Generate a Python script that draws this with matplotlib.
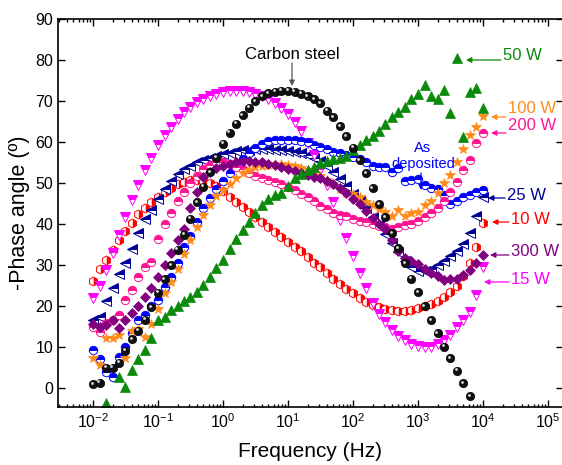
import numpy as np
import matplotlib
matplotlib.use("Agg")
import matplotlib.pyplot as plt
from matplotlib.transforms import offset_copy
from matplotlib.ticker import FixedLocator, NullLocator, NullFormatter, LogFormatterSciNotation

plt.rcParams['font.family'] = ['Liberation Sans', 'DejaVu Sans']
plt.rcParams['mathtext.fontset'] = 'custom'
plt.rcParams['mathtext.rm'] = 'Liberation Sans'
plt.rcParams['mathtext.it'] = 'Liberation Sans:italic'

nan = np.nan

# ---------------- data ----------------
freq = [0.01, 0.0126, 0.0158, 0.02, 0.0251, 0.0316, 0.0398, 0.0501, 0.0631, 0.0794,
        0.1, 0.126, 0.158, 0.2, 0.251, 0.316, 0.398, 0.501, 0.631, 0.794,
        1, 1.26, 1.58, 2, 2.51, 3.16, 3.98, 5.01, 6.31, 7.94,
        10, 12.6, 15.8, 20, 25.1, 31.6, 39.8, 50.1, 63.1, 79.4,
        100, 126, 158, 200, 251, 316, 398, 501, 631, 794,
        1000, 1260, 1580, 2000, 2510, 3160, 3980, 5010, 6310, 7940,
        10000]

carbon_steel = [1.0, 1.3, 5.0, 5.0, 6.2, 9.1, 11.9, 14.0, 16.7, 19.7,
                23.2, 26.6, 30.0, 33.7, 37.4, 41.3, 45.3, 49.1, 52.6, 56.2,
                59.6, 62.3, 64.5, 66.6, 68.4, 69.9, 71.1, 71.9, 72.3, 72.5,
                72.5, 72.3, 71.8, 71.1, 70.5, 69.4, 67.6, 66.0, 63.9, 61.4,
                58.6, 55.6, 52.4, 48.7, 44.9, 41.6, 37.7, 34.1, 30.5, 26.7,
                23.4, 20.0, 16.6, 13.4, 10.1, 7.2, 4.2, 1.1, -2.0, nan,
                nan]

w15 = [21.9, 24.9, 28.9, 33.0, 37.4, 41.8, 45.9, 49.6, 53.2, 56.2,
       59.2, 61.7, 63.7, 65.5, 67.2, 68.6, 69.8, 70.6, 71.3, 71.8,
       72.2, 72.4, 72.5, 72.4, 72.2, 71.7, 71.1, 70.4, 69.4, 68.3,
       66.9, 64.9, 62.6, 59.8, 56.8, 53.2, 49.5, 45.3, 40.9, 36.5,
       32.1, 28.0, 24.3, 20.8, 18.1, 16.0, 14.2, 12.8, 11.7, 10.7,
       10.2, 10.1, 10.1, 10.7, 11.7, 12.9, 15.0, 16.6, 18.6, 22.7,
       29.6]

w10 = [26.0, 29.0, 31.2, 33.7, 36.1, 38.2, 40.3, 42.4, 43.9, 45.3,
       46.7, 47.9, 48.9, 49.8, 50.3, 50.7, 50.8, 50.6, 50.0, 49.2,
       48.0, 46.6, 45.3, 44.1, 42.9, 41.7, 40.5, 39.3, 38.1, 36.9,
       35.7, 34.5, 33.3, 31.9, 30.6, 29.4, 28.1, 26.6, 25.4, 24.2,
       23.1, 21.9, 21.0, 20.2, 19.8, 19.3, 19.0, 18.9, 18.9, 19.1,
       19.4, 19.9, 20.4, 21.2, 22.2, 23.4, 24.8, 27.3, 30.4, 34.5,
       40.2]

w25 = [16.6, 17.2, 21.2, 24.3, 27.9, 30.5, 33.9, 37.9, 41.1, 43.5,
       46.2, 48.6, 50.6, 52.1, 53.3, 54.2, 55.0, 55.6, 56.1, 56.6,
       57.0, 57.4, 57.7, 58.0, 58.1, 58.2, 58.2, 58.2, 58.1, 58.0,
       57.8, 57.5, 57.2, 56.8, 56.1, 55.3, 54.1, 52.6, 50.9, 49.2,
       47.4, 45.6, 43.9, 41.8, 39.8, 37.6, 35.3, 33.1, 31.0, 29.6,
       28.6, 28.5, 29.1, 29.9, 31.0, 32.1, 33.3, 35.0, 37.8, 42.0,
       46.7]

as_deposited = [9.3, 7.0, 4.0, 2.8, 7.5, 10.1, 13.5, 16.6, 17.8, 20.0,
                21.5, 24.6, 27.1, 30.5, 34.5, 37.0, 40.4, 44.0, 46.3, 48.5,
                50.5, 52.5, 54.3, 55.8, 57.2, 58.5, 59.6, 60.2, 60.5, 60.6,
                60.6, 60.5, 60.3, 59.9, 59.3, 58.8, 58.2, 57.6, 57.2, 56.8,
                56.3, 55.8, 55.2, 54.2, 53.8, 53.8, 52.8, 53.6, 50.6, 50.8,
                50.9, 49.4, 48.8, 48.6, 47.1, 44.9, 45.5, 46.5, 47.1, 47.9,
                48.4]

w200 = [15.0, 13.7, 15.8, 16.5, 17.8, 21.5, 24.0, 27.0, 29.5, 30.8,
        36.3, 40.0, 42.8, 45.5, 47.8, 50.0, 51.8, 53.5, 54.5, 55.0,
        55.0, 54.6, 54.0, 53.3, 52.5, 51.8, 51.2, 50.8, 50.3, 49.7,
        49.1, 48.2, 47.4, 46.6, 45.7, 44.5, 43.6, 42.8, 42.2, 41.9,
        41.2, 40.7, 40.4, 40.0, 39.5, 39.2, 38.9, 39.2, 39.7, 40.1,
        40.8, 41.6, 42.7, 44.0, 45.5, 47.8, 50.3, 53.2, 55.6, 59.7,
        62.1]

w100 = [7.4, 5.6, 12.1, 12.1, 12.9, 7.2, 14.0, 14.3, 12.5, 15.5,
        19.3, 23.1, 25.8, 29.1, 32.6, 36.0, 39.2, 42.2, 44.6, 46.8,
        48.4, 49.8, 51.1, 52.4, 53.2, 53.8, 54.2, 54.5, 54.6, 54.6,
        54.4, 54.1, 53.7, 53.1, 52.4, 51.6, 50.7, 49.7, 48.5, 47.6,
        47.3, 46.6, 45.4, 44.6, 43.6, 43.0, 41.9, 43.4, 42.0, 42.6,
        42.9, 44.6, 45.5, 47.6, 49.9, 51.9, 55.0, 58.2, 61.7, 63.6,
        66.3]

w300 = [15.5, 15.0, 15.4, 16.6, 14.6, 16.7, 18.2, 19.9, 22.3, 24.4,
        27.0, 30.0, 33.0, 36.1, 38.9, 43.8, 47.8, 51.4, 52.6, 53.6,
        54.1, 54.7, 55.1, 55.3, 55.3, 55.2, 55.0, 54.7, 54.3, 53.9,
        53.4, 52.9, 52.4, 51.9, 51.5, 51.1, 50.6, 49.8, 48.7, 47.6,
        46.2, 44.8, 43.2, 41.5, 40.0, 38.7, 36.0, 33.5, 31.8, 30.9,
        30.2, 29.1, 28.1, 27.2, 26.4, 26.5, 26.5, 27.6, 28.8, 30.4,
        32.4]

w50 = [nan, nan, -3.7, nan, 2.8, 0.3, 4.4, 7.0, 9.3, 12.1,
       16.7, 17.2, 19.0, 20.0, 21.1, 22.3, 23.5, 25.1, 27.0, 29.2,
       31.3, 33.9, 36.4, 38.5, 40.6, 42.6, 44.6, 46.0, 47.1, 47.6,
       49.3, 51.1, 52.2, 53.2, 54.0, 54.8, 55.4, 55.9, 56.2, 56.5,
       58.0, 59.3, 60.5, 61.5, 62.8, 64.5, 66.1, 67.2, 68.6, 70.4,
       71.7, 73.9, 71.1, 70.5, 72.8, 67.0, 80.6, 61.1, 72.3, 73.1,
       68.2]

yticks = [0, 10, 20, 30, 40, 50, 60, 70, 80, 90]
xticks = [1e-2, 1e-1, 1e0, 1e1, 1e2, 1e3, 1e4, 1e5]

# ---------------- colours ----------------
C_MAG = '#ff00ff'
C_RED = '#ff0000'
C_NAVY = '#000099'
C_BLUE = '#0000ff'
C_PINK = '#ff1493'
C_ORANGE = '#ff8c1a'
C_PURPLE = '#800080'
C_GREEN = '#0a8a0a'

W, H = 562, 465
fig = plt.figure(figsize=(W / 100, H / 100), dpi=100)
ax = fig.add_axes([58 / W, 1 - 407 / H, 505 / W, 388 / H])
ax.set_xscale('log')
ax.set_xlim(10 ** (-2 - 35 / 65), 10 ** (5 + 15 / 65))
ax.set_ylim((388 - 407) / 4.1, 90)

def half(vals, marker, color, fs, ms=6.0):
    ax.plot(freq, vals, ls='none', marker=marker, ms=ms, mfc=color, mec=color,
            mew=0.7, fillstyle=fs, markerfacecoloralt='white')

half(w10, 'h', C_RED, 'right', 6.5)
half(w25, '<', C_NAVY, 'top', 6.5)
half(w15, 'v', C_MAG, 'top', 6.5)
half(as_deposited, 'o', C_BLUE, 'top', 6.0)
half(w200, 'o', C_PINK, 'top', 6.0)
ax.plot(freq, w100, ls='none', marker='*', ms=7.5, mfc=C_ORANGE, mec=C_ORANGE, mew=0.5)
ax.plot(freq, w300, ls='none', marker='D', ms=5.0, mfc=C_PURPLE, mec=C_PURPLE, mew=0.5)
ax.plot(freq, w50, ls='none', marker='^', ms=6.5, mfc=C_GREEN, mec=C_GREEN, mew=0.5)
ax.plot(freq, carbon_steel, ls='none', marker='o', ms=6.0, mfc='#111111', mec='#000000', mew=0.5)
hl = offset_copy(ax.transData, fig=fig, x=-1.0, y=1.0, units='points')
ax.plot(freq, carbon_steel, ls='none', marker='o', ms=2.0, mfc='#dddddd', mec='none',
        transform=hl)

# ---------------- axes styling ----------------
ax.set_yticks(yticks)
ax.yaxis.set_minor_locator(NullLocator())
ax.xaxis.set_major_locator(FixedLocator(xticks))
ax.xaxis.set_major_formatter(LogFormatterSciNotation())
minor = [m * d for d in [1e-3, 1e-2, 1e-1, 1e0, 1e1, 1e2, 1e3, 1e4, 1e5]
         for m in range(2, 10)]
ax.xaxis.set_minor_locator(FixedLocator(minor))
ax.xaxis.set_minor_formatter(NullFormatter())
ax.tick_params(which='both', direction='in', top=True, right=True, width=1.0)
ax.tick_params(which='major', length=5, labelsize=11.5)
ax.tick_params(which='minor', length=2.5)
ax.tick_params(axis='x', which='major', pad=4)
for s in ax.spines.values():
    s.set_linewidth(1.2)

ax.set_xlabel('Frequency (Hz)', fontsize=15, labelpad=8)
ax.set_ylabel('-Phase angle (º)', fontsize=15.5, labelpad=4)

# ---------------- annotations ----------------
def P(px, py):
    return 10 ** (-2 + (px - 93) / 65.0), (388 - py) / 4.1

def arrow(x0, y0, x1, y1, color):
    ax.annotate('', xy=P(x1, y1), xytext=P(x0, y0),
                arrowprops=dict(arrowstyle='-|>', color=color, lw=0.9,
                                mutation_scale=8, shrinkA=0, shrinkB=0))

ax.text(*P(292, 55), 'Carbon steel', fontsize=12, ha='center', va='center')
arrow(292, 63, 292, 86, '#555555')

ax.text(*P(423, 148), 'As', fontsize=10.5, ha='center', va='center', color=C_BLUE)
ax.text(*P(423, 164), 'deposited', fontsize=10.5, ha='center', va='center', color=C_BLUE)
arrow(421, 173, 421, 190, C_BLUE)

labels = [('50 W', C_GREEN, 56, 60, 501, 466),
          ('100 W', C_ORANGE, 109, 117, 506, 491),
          ('200 W', C_PINK, 126, 133, 506, 491),
          ('25 W', C_NAVY, 195, 198, 505, 488),
          ('10 W', C_RED, 220, 222, 509, 492),
          ('300 W', C_PURPLE, 252, 255, 509, 490),
          ('15 W', C_MAG, 280, 282, 509, 484)]
for txt, col, ty, ay, ax0, ax1 in labels:
    ax.text(*P(ax0 + 2, ty), txt, fontsize=12, ha='left', va='center', color=col)
    arrow(ax0, ay, ax1, ay, col)

fig.savefig('out.png', dpi=100)
